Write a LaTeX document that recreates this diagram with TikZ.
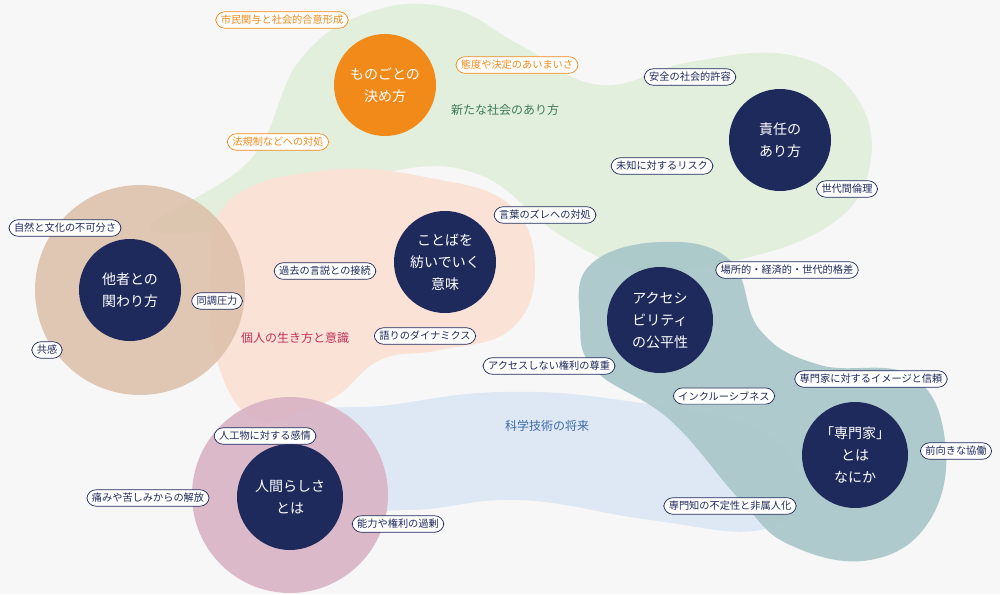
\documentclass[tikz,border=0pt]{standalone}
\usepackage{fontspec}
\setmainfont{Noto Sans CJK JP}
\definecolor{bg}{HTML}{F7F7F7}
\definecolor{navy}{HTML}{1E2A5C}
\definecolor{orng}{HTML}{F28A1A}
\definecolor{gblob}{HTML}{E2EFDD}
\definecolor{pblob}{HTML}{FBE2D6}
\definecolor{bblob}{HTML}{DDBFA9}
\definecolor{lblob}{HTML}{DCE7F4}
\definecolor{mblob}{HTML}{D8B3C5}
\definecolor{tblob}{HTML}{A8C6C8}
\definecolor{gtext}{HTML}{3C7A52}
\definecolor{rtext}{HTML}{C2305A}
\definecolor{btext}{HTML}{3C6AA8}
\begin{document}
\begin{tikzpicture}[x=1pt,y=-1pt,
  pill/.style={draw=navy,fill=white,rounded corners=9pt,text=navy,font=\fontsize{10.2}{12}\selectfont,inner xsep=5pt,inner ysep=3.5pt,line width=0.7pt},
  opill/.style={pill,draw=orng,text=orng},
  hub/.style={circle,fill=navy,text=white,minimum size=102pt,align=center,font=\fontsize{14}{22}\selectfont},
  region/.style={font=\fontsize{12}{14}\selectfont}]
\fill[bg] (0,0) rectangle (1000,594);
\useasboundingbox (0,0) rectangle (1000,594);
% blobs
\fill[gblob] plot[smooth cycle,tension=0.7] coordinates{(150,230)(250,160)(300,60)(370,12)(450,8)(520,45)(600,85)(690,62)(790,55)(855,95)(870,165)(830,225)(730,262)(640,270)(560,235)(480,175)(390,172)(300,215)};
\fill[pblob] plot[smooth cycle,tension=0.7] coordinates{(230,200)(330,170)(430,178)(510,205)(535,270)(510,330)(440,350)(380,360)(330,400)(260,420)(220,370)(210,280)};
\fill[bblob,opacity=0.85] (140,290) circle (105);
\fill[lblob,opacity=0.9] plot[smooth cycle,tension=0.7] coordinates{(290,420)(390,405)(500,392)(620,400)(760,430)(800,490)(760,530)(650,520)(520,500)(410,510)(330,500)};
\fill[mblob,opacity=0.9] (290,495) circle (98);
\fill[tblob,opacity=0.9] plot[smooth cycle,tension=0.7] coordinates{(590,265)(660,242)(730,260)(760,330)(820,365)(910,375)(945,440)(930,520)(870,560)(790,545)(740,500)(670,420)(595,370)(580,320)};
% region labels
\node[region,text=gtext] (rg) at (505,110) {新たな社会のあり方};
\node[region,text=rtext] (rr) at (295,338) {個人の生き方と意識};
\node[region,text=btext] (rb) at (547,426) {科学技術の将来};
% hubs
\node[hub,fill=orng] (h1) at (385,85) {ものごとの\\決め方};
\node[hub] (h2) at (780,140) {責任の\\あり方};
\node[hub] (h3) at (130,290) {他者との\\関わり方};
\node[hub] (h4) at (445,262) {ことばを\\紡いでいく\\意味};
\node[hub,minimum size=106pt] (h5) at (660,320) {アクセシ\\ビリティ\\の公平性};
\node[hub,minimum size=106pt] (h6) at (855,455) {「専門家」\\とは\\なにか};
\node[hub,minimum size=106pt] (h7) at (290,497) {人間らしさ\\とは};
% pills
\node[opill] (p1) at (282,20) {市民関与と社会的合意形成};
\node[opill] (p2) at (517,65) {態度や決定のあいまいさ};
\node[opill] (p3) at (278,142) {法規制などへの対処};
\node[pill] (p4) at (690,77) {安全の社会的許容};
\node[pill] (p5) at (662,166) {未知に対するリスク};
\node[pill] (p6) at (847,189) {世代間倫理};
\node[pill] (p7) at (545,215) {言葉のズレへの対処};
\node[pill] (p8) at (325,271) {過去の言説との接続};
\node[pill] (p9) at (425,336) {語りのダイナミクス};
\node[pill] (p10) at (65,228) {自然と文化の不可分さ};
\node[pill] (p11) at (217,301) {同調圧力};
\node[pill] (p12) at (47,350) {共感};
\node[pill] (p13) at (787,270) {場所的・経済的・世代的格差};
\node[pill] (p14) at (549,366) {アクセスしない権利の尊重};
\node[pill] (p15) at (724,396) {インクルーシブネス};
\node[pill] (p16) at (871,379) {専門家に対するイメージと信頼};
\node[pill] (p17) at (956,451) {前向きな協働};
\node[pill] (p18) at (730,506) {専門知の不定性と非属人化};
\node[pill] (p19) at (265,436) {人工物に対する感情};
\node[pill] (p20) at (148,498) {痛みや苦しみからの解放};
\node[pill] (p21) at (398,524) {能力や権利の過剰};
\end{tikzpicture}
\end{document}
